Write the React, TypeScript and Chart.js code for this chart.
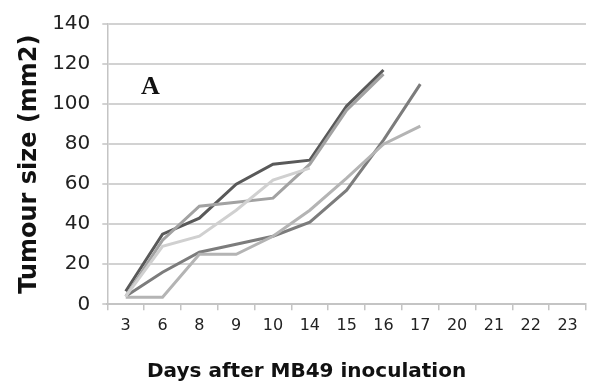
import React, { useEffect, useRef } from "react";
import { Chart, registerables } from "chart.js";

Chart.register(...registerables);

const days = ["3", "6", "8", "9", "10", "14", "15", "16", "17", "20", "21", "22", "23"];
const mouse1 = [6.5, 35, 43, 60, 70, 72, 99, 117, null, null, null, null, null];
const mouse2 = [4, 32, 49, 51, 53, 70, 97, 115, null, null, null, null, null];
const mouse3 = [4, 29, 34, 47, 62, 68, null, null, null, null, null, null, null];
const mouse4 = [4, 16, 26, 30, 34, 41, 57, 82, 110, null, null, null, null];
const mouse5 = [3.5, 3.5, 25, 25, 34, 47, 63, 80, 89, null, null, null, null];
const yTicks = [0, 20, 40, 60, 80, 100, 120, 140];

const seriesList = [
  { name: "M3", data: mouse3, color: "#d0d0d0" },
  { name: "M5", data: mouse5, color: "#b4b4b4" },
  { name: "M2", data: mouse2, color: "#a2a2a2" },
  { name: "M4", data: mouse4, color: "#7c7c7c" },
  { name: "M1", data: mouse1, color: "#595959" },
];

export default function App() {
  const ref = useRef<HTMLCanvasElement | null>(null);

  useEffect(() => {
    document.body.style.margin = "0";
    const canvas = ref.current;
    if (!canvas) return;
    const chart = new Chart(canvas, {
      type: "line",
      data: {
        labels: days,
        datasets: seriesList.map((s) => ({
          label: s.name,
          data: s.data,
          borderColor: s.color,
          backgroundColor: s.color,
          borderWidth: 3,
          pointRadius: 0,
          tension: 0,
          spanGaps: false,
          fill: false,
        })),
      },
      options: {
        responsive: false,
        animation: false,
        devicePixelRatio: 1,
        layout: { padding: { top: 19, right: 6, bottom: 0, left: 0 } },
        plugins: {
          legend: { display: false },
          tooltip: { enabled: false },
        },
        scales: {
          x: {
            type: "category",
            offset: true,
            grid: {
              offset: true,
              drawOnChartArea: false,
              drawTicks: true,
              tickLength: 6,
              color: "#c4c4c4",
              lineWidth: 1.5,
            },
            border: { color: "#c4c4c4", width: 2 },
            ticks: {
              color: "#222",
              font: { family: "'DejaVu Sans', Verdana, sans-serif", size: 16 },
              padding: 6,
              maxRotation: 0,
              autoSkip: false,
            },
            afterFit: (scale: any) => {
              scale.height = 82.7;
            },
          },
          y: {
            min: 0,
            max: 140,
            afterBuildTicks: (scale: any) => {
              scale.ticks = yTicks.map((v) => ({ value: v }));
            },
            grid: {
              color: "#d2d2d2",
              lineWidth: 2,
              drawTicks: true,
              tickLength: 5,
            },
            border: { color: "#c4c4c4", width: 1.5 },
            ticks: {
              color: "#222",
              font: { family: "'DejaVu Sans', Verdana, sans-serif", size: 20 },
              padding: 12,
            },
            title: {
              display: true,
              text: "Tumour size (mm2)",
              color: "#111",
              font: { family: "'DejaVu Sans', Verdana, sans-serif", size: 24, weight: "bold" },
              padding: { top: 15, bottom: 0 },
            },
            afterFit: (scale: any) => {
              scale.width = 107.3;
            },
          },
        },
      },
    });
    return () => chart.destroy();
  }, []);

  return (
    <div style={{ position: "relative", width: 592, height: 387, background: "#fff" }}>
      <canvas ref={ref} width={592} height={387} style={{ display: "block" }} />
      <div
        style={{
          position: "absolute",
          left: 141,
          top: 71,
          fontFamily: "'Liberation Serif', 'Times New Roman', serif",
          fontWeight: "bold",
          fontSize: 26,
          lineHeight: "30px",
          color: "#111",
        }}
      >
        A
      </div>
      <div
        style={{
          position: "absolute",
          left: 147,
          top: 358,
          fontFamily: "'DejaVu Sans', Verdana, sans-serif",
          fontWeight: "bold",
          fontSize: 20,
          lineHeight: "24px",
          color: "#111",
          whiteSpace: "nowrap",
        }}
      >
        Days after MB49 inoculation
      </div>
    </div>
  );
}
